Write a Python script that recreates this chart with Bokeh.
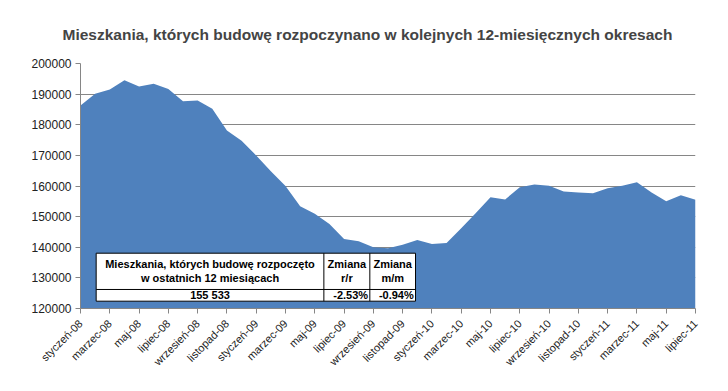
import math
from bokeh.plotting import figure
from bokeh.models import Range1d, FixedTicker, Label, ColumnDataSource
from bokeh.embed import file_html
from bokeh.resources import INLINE
from bokeh.core.properties import value

# ---- data ----
month_labels = [
    "styczeń-08", "luty-08", "marzec-08", "kwiecień-08", "maj-08", "czerwiec-08",
    "lipiec-08", "sierpień-08", "wrzesień-08", "październik-08", "listopad-08", "grudzień-08",
    "styczeń-09", "luty-09", "marzec-09", "kwiecień-09", "maj-09", "czerwiec-09",
    "lipiec-09", "sierpień-09", "wrzesień-09", "październik-09", "listopad-09", "grudzień-09",
    "styczeń-10", "luty-10", "marzec-10", "kwiecień-10", "maj-10", "czerwiec-10",
    "lipiec-10", "sierpień-10", "wrzesień-10", "październik-10", "listopad-10", "grudzień-10",
    "styczeń-11", "luty-11", "marzec-11", "kwiecień-11", "maj-11", "czerwiec-11", "lipiec-11",
]
started = [
    186300, 190100, 191500, 194500, 192500, 193400, 191700, 187700, 187900, 185200, 178100, 174800,
    170000, 164800, 160000, 153400, 150900, 147600, 142700, 142000, 140000, 139700, 140800, 142400,
    141100, 141400, 146200, 151200, 156300, 155600, 159570, 160500, 160100, 158200, 157900, 157600,
    159300, 160100, 161200, 157900, 155000, 157000, 155533,
]
y_ticks = [120000, 130000, 140000, 150000, 160000, 170000, 180000, 190000, 200000]
title_text = "Mieszkania, których budowę rozpoczynano w kolejnych 12-miesięcznych okresach"
table_header = ["Mieszkania, których budowę rozpoczęto", "w ostatnich 12 miesiącach"]
table_value = "155 533"
change_yy = "-2.53%"
change_mm = "-0.94%"
source_text = "Źródło: dane GUS, obliczenia Open Finance."

FONT = "Liberation Sans"
BLUE = "#4F81BD"
GRID = "#868686"

idx = list(range(len(started)))
src = ColumnDataSource(dict(x=idx, y=started, base=[y_ticks[0]] * len(started)))

p = figure(width=712, height=375, output_backend="svg", toolbar_location=None,
           x_range=Range1d(0, len(started) - 1), y_range=Range1d(y_ticks[0], y_ticks[-1]),
           min_border_left=80, min_border_right=17, min_border_top=63, min_border_bottom=67)
p.outline_line_color = None
p.background_fill_color = "white"
p.border_fill_color = "white"

p.title.text = title_text
p.title.text_font = FONT
p.title.text_font_size = "15.5px"
p.title.text_font_style = "bold"
p.title.align = "left"
p.title.offset = -18
p.title.standoff = 42

p.varea(x="x", y1="base", y2="y", source=src, fill_color=BLUE)

# axes
p.yaxis.ticker = FixedTicker(ticks=y_ticks)
p.yaxis.major_label_overrides = {t: str(t) for t in y_ticks}
p.yaxis.axis_line_color = GRID
p.yaxis.major_tick_line_color = GRID
p.yaxis.major_tick_in = 0
p.yaxis.major_tick_out = 5
p.yaxis.minor_tick_line_color = None
p.yaxis.major_label_standoff = 4
p.yaxis.major_label_text_font = FONT
p.yaxis.major_label_text_font_size = "12px"
p.yaxis.major_label_text_color = "#222222"

xt = list(range(0, len(started), 2))
p.xaxis.ticker = FixedTicker(ticks=xt)
p.xaxis.major_label_overrides = {i: month_labels[i] for i in xt}
p.xaxis.major_label_orientation = math.pi / 4
p.xaxis.axis_line_color = GRID
p.xaxis.major_tick_line_color = GRID
p.xaxis.major_tick_in = 0
p.xaxis.major_tick_out = 5
p.xaxis.minor_tick_line_color = None
p.xaxis.major_label_standoff = 8
p.xaxis.major_label_text_font = FONT
p.xaxis.major_label_text_font_size = "11px"
p.xaxis.major_label_text_color = "#222222"

p.ygrid.ticker = FixedTicker(ticks=y_ticks[1:])
p.ygrid.grid_line_color = GRID
p.xgrid.grid_line_color = None

# summary table (annotation)
tl, tc1, tc2, tr = 1.07, 16.62, 19.76, 22.88
tt, tm, tb = 138060, 126210, 122390
p.quad(left=[tl], right=[tr], top=[tt], bottom=[tb], fill_color="white",
       line_color="black", line_width=1)
p.segment(x0=[tc1, tc2, tl], y0=[tt, tt, tm], x1=[tc1, tc2, tr], y1=[tb, tb, tm],
          line_color="black", line_width=1)
c1 = (tl + tc1) / 2
c2 = (tc1 + tc2) / 2
c3 = (tc2 + tr) / 2
txt = dict(text_font=value(FONT), text_font_size="11px", text_font_style="bold",
           text_color="black", text_baseline="middle")
p.text(x=[c1, c1, c1], y=[134690, 129800, 124250],
       text=[table_header[0], table_header[1], table_value], text_align="center", **txt)
p.text(x=[c2, c2, c3, c3], y=[134690, 129800, 134690, 129800],
       text=["Zmiana", "r/r", "Zmiana", "m/m"], text_align="center", **txt)
p.text(x=[tc2 - 0.12, tr - 0.12], y=[124250, 124250], text=[change_yy, change_mm],
       text_align="right", **txt)

p.add_layout(Label(x=43.0, y=100400, text=source_text, text_align="right",
                   text_baseline="alphabetic", text_font=FONT, text_font_size="9px",
                   text_color="#222222"))

open("out.html", "w").write(file_html(p, INLINE))
